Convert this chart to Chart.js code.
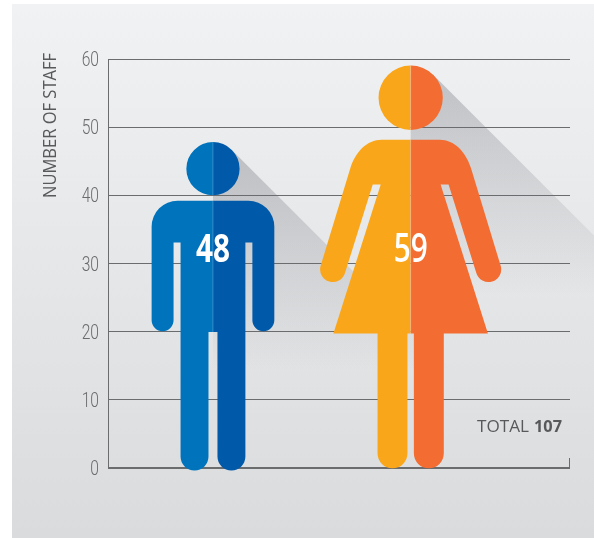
<!DOCTYPE html>
<html>
<head>
<meta charset="utf-8">
<style>
  html, body { margin: 0; padding: 0; background: #fff; }
  #wrap { width: 594px; height: 538px; }
</style>
<script src="https://cdn.jsdelivr.net/npm/chart.js@4"></script>
</head>
<body>
<div id="wrap"><canvas id="staffChart" width="594" height="538"></canvas></div>
<script>
let categories = ['Male', 'Female'];
let staffCounts = [48, 59];
let yMax = 60;
let yStep = 10;
let axisTitle = 'NUMBER OF STAFF';
let totalWord = 'TOTAL';

let leftColors = ['#0073bd', '#faa61a'];
let rightColors = ['#005aa9', '#f36c31'];
let countWeights = ['700', '600'];

const lineColor = '#6b6c6e';
const textColor = '#58595b';

// figures are outlined in units of px at a bar height of refHeight, origin = top of the bar, centre line
function malePath() {
    let p = new Path2D();
    p.moveTo(0, 60);
    p.lineTo(-36, 60);
    p.arcTo(-61.5, 60, -61.5, 86, 26);
    p.lineTo(-61.5, 180);
    p.arc(-50.5, 180, 11, Math.PI, 0, true);
    p.lineTo(-39.5, 102);
    p.lineTo(-32.5, 102);
    p.lineTo(-32.5, 316.5);
    p.arc(-18.5, 316.5, 14, Math.PI, 0, true);
    p.lineTo(-4.5, 191.7);
    p.lineTo(4.5, 191.7);
    p.lineTo(4.5, 316.5);
    p.arc(18.5, 316.5, 14, Math.PI, 0, true);
    p.lineTo(32.5, 102);
    p.lineTo(39.5, 102);
    p.lineTo(39.5, 180);
    p.arc(50.5, 180, 11, Math.PI, 0, true);
    p.lineTo(61.5, 86);
    p.arcTo(61.5, 60, 36, 60, 26);
    p.closePath();
    p.moveTo(26.7, 28);
    p.arc(0, 28, 26.7, 0, Math.PI * 2);
    return p;
}

function femalePath() {
    let p = new Path2D();
    let a = 0.287;
    p.moveTo(0, 74);
    p.lineTo(-29, 74);
    p.bezierCurveTo(-44, 74, -55, 86, -60.4, 102.3);
    p.lineTo(-90.2, 200.4);
    p.arc(-78, 204, 12.7, Math.PI + a, a, true);
    p.lineTo(-38, 119);
    p.lineTo(-30, 119);
    p.lineTo(-77.4, 268.3);
    p.lineTo(-33.2, 268.3);
    p.lineTo(-33.2, 388.3);
    p.arc(-18.2, 388.3, 15, Math.PI, 0, true);
    p.lineTo(-3.2, 268.3);
    p.lineTo(3.2, 268.3);
    p.lineTo(3.2, 388.3);
    p.arc(18.2, 388.3, 15, Math.PI, 0, true);
    p.lineTo(33.2, 268.3);
    p.lineTo(77.4, 268.3);
    p.lineTo(30, 119);
    p.lineTo(38, 119);
    p.lineTo(65.8, 207.6);
    p.arc(78, 204, 12.7, Math.PI - a, -a, true);
    p.lineTo(60.4, 102.3);
    p.bezierCurveTo(55, 86, 44, 74, 29, 74);
    p.closePath();
    p.moveTo(32.2, 32);
    p.arc(0, 32, 32.2, 0, Math.PI * 2);
    return p;
}

const figures = [
    { path: malePath(), refHeight: 327, headX: 18.9, headY: 9.1 },
    { path: femalePath(), refHeight: 402, headX: 22.8, headY: 9.2 }
];

// no narrow font is installed, so text is squeezed sideways to the width it has in the picture
function squeezedText(ctx, text, x, y, width) {
    let w = ctx.measureText(text).width;
    ctx.save();
    ctx.translate(x, y);
    ctx.scale(width / w, 1);
    ctx.fillText(text, 0, 0);
    ctx.restore();
}

// panel and the long shadows go under the grid lines
const backdrop = {
    id: 'backdrop',
    beforeDraw(chart) {
        let ctx = chart.ctx;
        let panel = ctx.createLinearGradient(0, 4, 0, 538);
        panel.addColorStop(0, '#f1f2f3');
        panel.addColorStop(1, '#dadbdd');
        ctx.save();
        ctx.fillStyle = panel;
        ctx.fillRect(12, 4, 582, 534);
        chart.getDatasetMeta(0).data.forEach((bar, i) => {
            let f = figures[i];
            let s = (bar.base - bar.y) / f.refHeight;
            let L = 700;
            let tx = bar.x + f.headX * s, ty = bar.y + f.headY * s;
            let shade = ctx.createLinearGradient(0, bar.y, 0, bar.y + 230);
            shade.addColorStop(0, 'rgba(90,94,104,0.33)');
            shade.addColorStop(1, 'rgba(90,94,104,0)');
            ctx.fillStyle = shade;
            ctx.beginPath();
            ctx.moveTo(bar.x, ty);
            ctx.lineTo(tx, ty);
            ctx.lineTo(tx + L, ty + L);
            ctx.lineTo(bar.x, ty + L);
            ctx.closePath();
            ctx.fill();
        });
        ctx.restore();
    }
};

const pictogram = {
    id: 'pictogram',
    afterDatasetsDraw(chart) {
        let ctx = chart.ctx;
        let yScale = chart.scales.y;
        chart.getDatasetMeta(0).data.forEach((bar, i) => {
            let f = figures[i];
            let s = (bar.base - bar.y) / f.refHeight;
            ctx.save();
            ctx.translate(bar.x, bar.y);
            ctx.scale(s, s);
            ctx.save();
            ctx.beginPath();
            ctx.rect(-200, -10, 200, 600);
            ctx.clip();
            ctx.fillStyle = leftColors[i];
            ctx.fill(f.path);
            ctx.restore();
            ctx.save();
            ctx.beginPath();
            ctx.rect(0, -10, 200, 600);
            ctx.clip();
            ctx.fillStyle = rightColors[i];
            ctx.fill(f.path);
            ctx.restore();
            // faint seam down the middle
            ctx.clip(f.path);
            ctx.fillStyle = 'rgba(255,255,255,0.22)';
            ctx.fillRect(-0.5, -10, 1, 600);
            ctx.restore();

            ctx.save();
            ctx.fillStyle = '#fff';
            ctx.font = countWeights[i] + ' 39px "Open Sans"';
            ctx.textAlign = 'center';
            ctx.textBaseline = 'middle';
            squeezedText(ctx, String(staffCounts[i]), bar.x, yScale.getPixelForValue(31.9), 34);
            ctx.restore();
        });
    },
    afterDraw(chart) {
        let ctx = chart.ctx;
        let area = chart.chartArea;
        let yScale = chart.scales.y;
        ctx.save();
        // end tick on the right of the base line
        ctx.strokeStyle = lineColor;
        ctx.lineWidth = 1;
        ctx.beginPath();
        ctx.moveTo(area.right - 0.5, area.bottom - 10);
        ctx.lineTo(area.right - 0.5, area.bottom);
        ctx.stroke();

        // y tick labels, positions come from the scale
        ctx.fillStyle = '#6a6b6d';
        ctx.font = '300 20px Roboto';
        ctx.textAlign = 'right';
        ctx.textBaseline = 'middle';
        yScale.ticks.forEach((tick, i) => {
            let label = String(tick.value);
            let w = ctx.measureText(label).width;
            squeezedText(ctx, label, area.left - 9, yScale.getPixelForTick(i) + 2, w * 0.78);
        });

        ctx.fillStyle = textColor;
        let total = staffCounts.reduce((a, b) => a + b, 0);
        let tx = area.right - 8, ty = yScale.getPixelForValue(5.9);
        ctx.font = '700 16px "Open Sans"';
        squeezedText(ctx, String(total), tx, ty, 28);
        ctx.font = '16px "Open Sans"';
        squeezedText(ctx, totalWord, tx - 33, ty, 52);

        ctx.translate(50.5, area.top - 6);
        ctx.rotate(-Math.PI / 2);
        ctx.font = '18px "Open Sans"';
        squeezedText(ctx, axisTitle, 0, 0, 145);
        ctx.restore();
    }
};

let chart = new Chart(document.getElementById('staffChart').getContext('2d'), {
    type: 'bar',
    plugins: [backdrop, pictogram],
    data: {
        datasets: [{
            label: 'Number of staff',
            data: staffCounts.map((v, i) => ({ x: i, y: v, name: categories[i] })),
            backgroundColor: 'rgba(0,0,0,0)',
            borderWidth: 0
        }]
    },
    options: {
        responsive: false,
        animation: false,
        events: [],
        layout: { padding: { left: 0, right: 24, top: 59, bottom: 70 } },
        plugins: { legend: { display: false }, tooltip: { enabled: false } },
        scales: {
            x: { type: 'linear', display: false, offset: false, min: -0.531, max: 1.806 },
            y: {
                min: 0,
                max: yMax,
                afterFit(scale) { scale.width = 108; },
                border: { color: lineColor, width: 1 },
                grid: {
                    color: lineColor,
                    drawTicks: false,
                    lineWidth: ctx => ctx.tick.value === 0 ? 2 : 1
                },
                ticks: { stepSize: yStep, display: false }
            }
        }
    }
});
</script>
</body>
</html>
